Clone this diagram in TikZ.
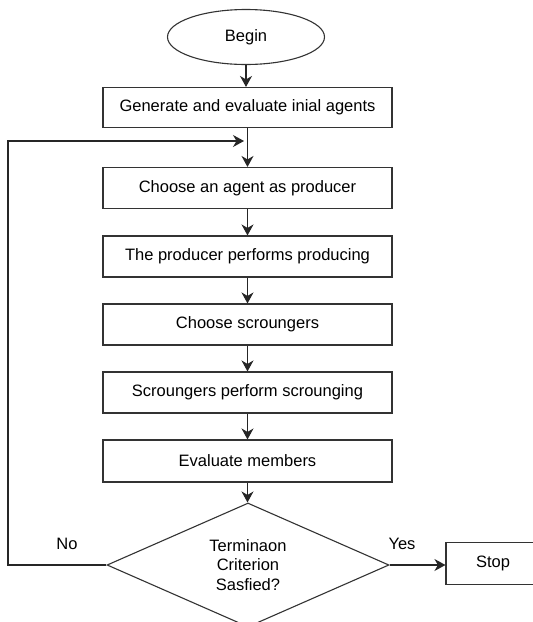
\documentclass[tikz,border=0pt]{standalone}
\usepackage{fontspec}
\setmainfont{Liberation Sans}
\usetikzlibrary{shapes.geometric,arrows.meta}
\begin{document}
\begin{tikzpicture}[x=1pt,y=-1pt,
  font=\fontsize{16.5}{19.5}\selectfont,
  every node/.style={draw=black!80,line width=1.1pt,inner sep=0pt,align=center},
  stepbox/.style={rectangle,minimum width=289pt,minimum height=41pt},
  conn/.style={draw=black!85,line width=1.1pt,-{Stealth[length=11pt,width=12pt,inset=3.5pt]}},
  lbl/.style={draw=none}]
\useasboundingbox (0,0) rectangle (533,622);
\clip (0,0) rectangle (533,622);
\fill[white] (0,0) rectangle (533,622);
\node[ellipse,minimum width=157pt,minimum height=55pt] (begin) at (246,37) {Begin};
\node[stepbox,minimum height=40pt] (b1) at (247.5,107.5) {Generate and evaluate inial agents};
\node[stepbox] (b2) at (247.5,188) {Choose an agent as producer};
\node[stepbox] (b3) at (247.5,256.5) {The producer performs producing};
\node[stepbox] (b4) at (247.5,324.5) {Choose scroungers};
\node[stepbox] (b5) at (247.5,392.5) {Scroungers perform scrounging};
\node[stepbox,minimum height=42pt] (b6) at (247.5,461) {Evaluate members};
\node[diamond,aspect=2.27,minimum width=282pt,minimum height=124pt] (dec) at (248,565) {Terminaon\\Criterion\\Sasfied?};
\node[rectangle,minimum width=94pt,minimum height=42pt] (stop) at (493,563.5) {Stop};
\node[lbl] (no) at (67,544) {No};
\node[lbl] (yes) at (402,544) {Yes};
\coordinate (c1) at (8,565);
\coordinate (c2) at (8,141);
\coordinate (c3) at (244,141);
\draw[conn] (begin.south) -- (begin.south |- b1.north);
\draw[conn] (b1.south) -- (b2.north);
\draw[conn] (b2.south) -- (b3.north);
\draw[conn] (b3.south) -- (b4.north);
\draw[conn] (b4.south) -- (b5.north);
\draw[conn] (b5.south) -- (b6.north);
\draw[conn] (b6.south) -- (b6.south |- dec.north);
\draw[conn] (dec.east) -- (stop.west |- dec.east);
\draw[conn] (dec.west) -- (c1) -- (c2) -- (c3);
\end{tikzpicture}
\end{document}
